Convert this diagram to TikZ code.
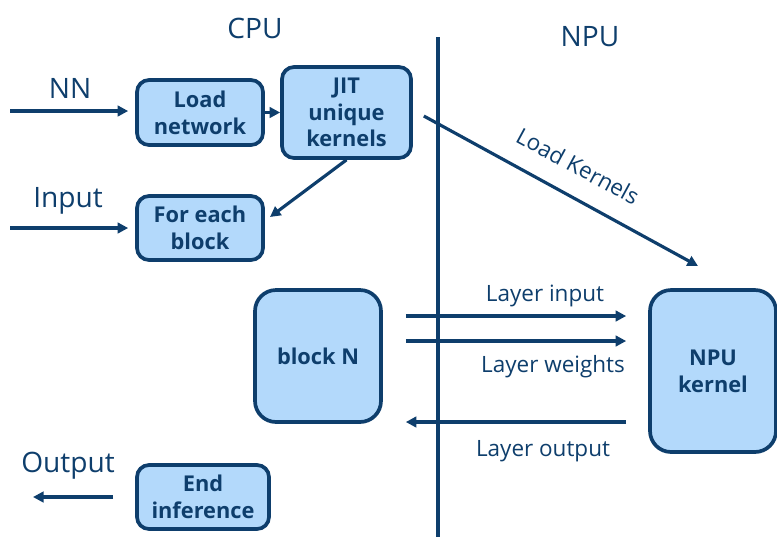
\documentclass[tikz,border=0pt]{standalone}
\usepackage{fontspec}
\setmainfont{Open Sans}
\usepackage{tikz}
\usetikzlibrary{arrows.meta,positioning}
\definecolor{inkblue}{HTML}{0E3E6C}
\definecolor{boxblue}{HTML}{B3D9FB}

\begin{document}
\begin{tikzpicture}[x=0.02cm,y=-0.02cm,
  box/.style={draw=inkblue,fill=boxblue,line width=2.1pt,rounded corners=0.24cm,
    align=center,text=inkblue,font=\bfseries\fontsize{12.4}{15.2}\selectfont,inner sep=0pt},
  bigbox/.style={box,rounded corners=0.42cm},
  arr/.style={draw=inkblue,line width=1.8pt,-{Triangle[length=6pt,width=6pt]}},
  lbl/.style={text=inkblue,font=\fontsize{12.8}{15}\selectfont},
  head/.style={text=inkblue,font=\fontsize{16}{19}\selectfont}]
  \useasboundingbox (0,0) rectangle (777,539);
  \node[head] at (255,28) {CPU};
  \node[head] at (590,37) {NPU};
  \draw[inkblue,line width=1.8pt] (438,37) -- (438,537);
  \node[box,minimum width=2.52cm,minimum height=1.30cm] (loadnet) at (200,112.5) {Load\\network};
  \node[box,minimum width=2.58cm,minimum height=1.82cm] (jit) at (346.5,112.5) {JIT\\unique\\kernels};
  \node[box,minimum width=2.52cm,minimum height=1.28cm] (foreach) at (200,228) {For each\\block};
  \node[bigbox,minimum width=2.52cm,minimum height=2.64cm] (blockn) at (318,356) {block N};
  \node[bigbox,minimum width=2.52cm,minimum height=3.24cm] (npuk) at (713,371) {NPU\\kernel};
  \node[box,minimum width=2.64cm,minimum height=1.28cm] (endinf) at (203,497) {End\\inference};
  \node[head] (nn) at (70,88) {NN};
  \node[head] (input) at (68,201) {Input};
  \node[head] (output) at (68,466) {Output};
  \coordinate (nnin) at (10,111);
  \coordinate (inputin) at (10,228);
  \coordinate (outend) at (33,497);
  \coordinate (lk) at (698,266);
  \coordinate (jitfor) at (270,217);
  \draw[arr,shorten >=0.14cm] (nnin) -- (loadnet.west |- nnin);
  \draw[arr,shorten >=0.14cm] (inputin) -- (foreach.west |- inputin);
  \draw[arr] (loadnet.east) -- (jit.west |- loadnet.east);
  \draw[arr] (jit.south) -- (jitfor);
  \draw[arr,shorten <=0.44cm] (endinf.west) -- (outend);
  \draw[arr] ([xshift=0.22cm,yshift=-0.07cm]jit.east) -- (lk);
  \node[lbl,rotate=-28.5] (lklbl) at (578,166) {Load Kernels};
  \coordinate (li) at (0,316);
  \coordinate (lw) at (0,341);
  \coordinate (lo) at (0,422);
  \draw[arr,shorten <=0.46cm,shorten >=0.44cm] (blockn.east |- li) -- (npuk.west |- li);
  \draw[arr,shorten <=0.46cm,shorten >=0.44cm] (blockn.east |- lw) -- (npuk.west |- lw);
  \draw[arr,shorten <=0.44cm,shorten >=0.46cm] (npuk.west |- lo) -- (blockn.east |- lo);
  \node[lbl] (lilbl) at (545,296) {Layer input};
  \node[lbl] (lwlbl) at (553,367) {Layer weights};
  \node[lbl] (lolbl) at (543,451) {Layer output};
\end{tikzpicture}
\end{document}
